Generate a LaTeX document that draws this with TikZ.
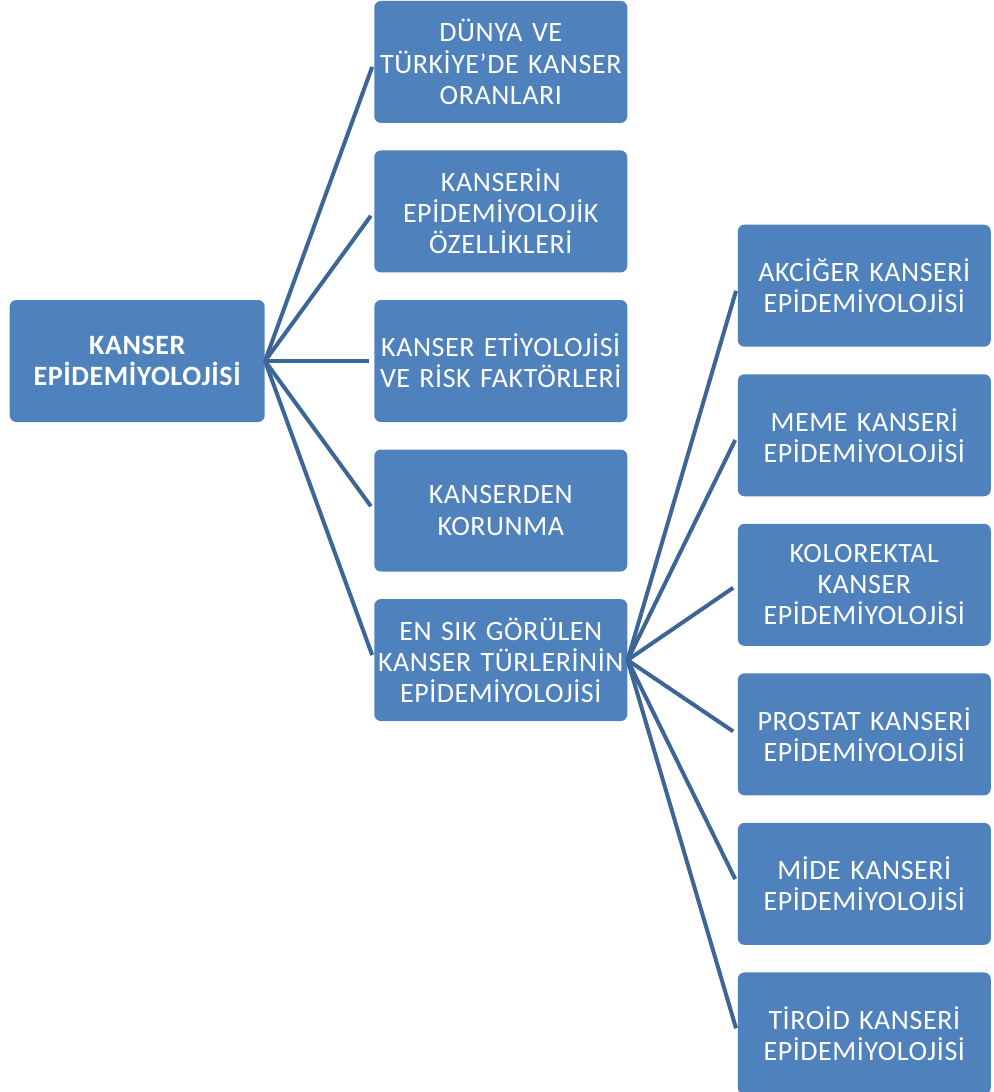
\documentclass[tikz,border=0pt]{standalone}
\usepackage{fontspec}
\setmainfont{Carlito}[WordSpace=0.85,LetterSpace=2]
\usepackage{tikz}
\usetikzlibrary{positioning}
\definecolor{topicblue}{HTML}{4F81BD}
\definecolor{linkblue}{HTML}{3D6596}

\begin{document}
\begin{tikzpicture}[node distance=20.25pt and 81.75pt,font=\fontsize{21pt}{23.3pt}\selectfont]

\tikzset{
topic/.style={
    fill=topicblue,
    draw=none,
    rounded corners=5pt,
    text=white,
    minimum width=189.75pt,
    minimum height=91.5pt,
    text width=187pt,
    align=center,
    inner sep=1pt
},
root/.style={topic,minimum width=191.25pt,font=\fontsize{21pt}{23.3pt}\selectfont\bfseries},
link/.style={line width=3pt,color=linkblue,shorten >=4pt}
}

\useasboundingbox (0,0) rectangle (744.75pt,-819pt);

% middle column
\node[topic,anchor=north west] (rates) at (280.5pt,-0.5pt) {DÜNYA VE\\TÜRKİYE’DE KANSER\\ORANLARI};
\node[topic,below=of rates] (features) {KANSERİN\\EPİDEMİYOLOJİK\\ÖZELLİKLERİ};
\node[topic,below=of features] (risk) {KANSER ETİYOLOJİSİ\\VE RİSK FAKTÖRLERİ};
\node[topic,below=of risk] (prevent) {KANSERDEN\\KORUNMA};
\node[topic,below=of prevent] (common) {EN SIK GÖRÜLEN\\KANSER TÜRLERİNİN\\EPİDEMİYOLOJİSİ};

\node[root,left=of risk] (main) {KANSER\\EPİDEMİYOLOJİSİ};

% right column
\node[topic,above right=10.5pt and 82.5pt of common.east] (colorectal) {KOLOREKTAL\\KANSER\\EPİDEMİYOLOJİSİ};
\node[topic,above=of colorectal] (breast) {MEME KANSERİ\\EPİDEMİYOLOJİSİ};
\node[topic,above=of breast] (lung) {AKCİĞER KANSERİ\\EPİDEMİYOLOJİSİ};
\node[topic,below=of colorectal] (prostate) {PROSTAT KANSERİ\\EPİDEMİYOLOJİSİ};
\node[topic,below=of prostate] (stomach) {MİDE KANSERİ\\EPİDEMİYOLOJİSİ};
\node[topic,below=of stomach] (thyroid) {TİROİD KANSERİ\\EPİDEMİYOLOJİSİ};

\draw[link] (main.east) -- (rates.west);
\draw[link] (main.east) -- (features.west);
\draw[link] (main.east) -- (risk.west);
\draw[link] (main.east) -- (prevent.west);
\draw[link] (main.east) -- (common.west);

\draw[link] (common.east) -- (lung.west);
\draw[link] (common.east) -- (breast.west);
\draw[link] (common.east) -- (colorectal.west);
\draw[link] (common.east) -- (prostate.west);
\draw[link] (common.east) -- (stomach.west);
\draw[link] (common.east) -- (thyroid.west);

\end{tikzpicture}
\end{document}
